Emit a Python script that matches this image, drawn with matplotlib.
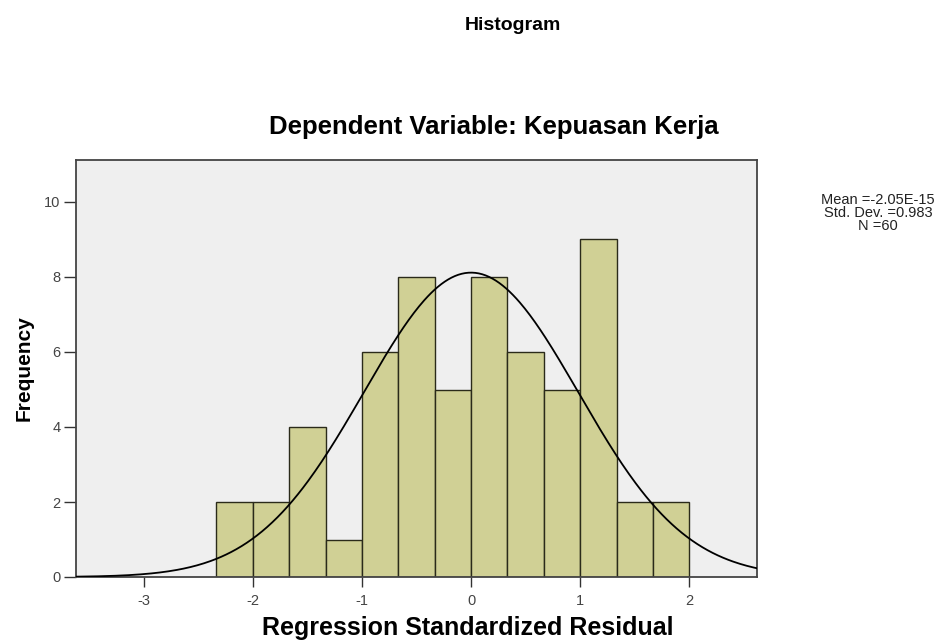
import numpy as np
import matplotlib
matplotlib.use("Agg")
import matplotlib.pyplot as plt

# Data
bin_edges = [-7/3, -2, -5/3, -4/3, -1, -2/3, -1/3, 0, 1/3, 2/3, 1, 4/3, 5/3, 2]
counts = [2, 2, 4, 1, 6, 8, 5, 8, 6, 5, 9, 2, 2]
mean_val = -2.05e-15
std_val = 0.983
n_val = 60
x_ticks = [-3, -2, -1, 0, 1, 2]
y_ticks = [0, 2, 4, 6, 8, 10]

plt.rcParams['font.family'] = ['Liberation Sans', 'DejaVu Sans']

fig = plt.figure(figsize=(9.5, 6.44), dpi=100)
fig.patch.set_facecolor('white')
ax = fig.add_axes([76/950, 1 - 577/644, (757-76)/950, (577-160)/644])
ax.set_facecolor('#efefef')

edges = np.array(bin_edges)
ax.bar(edges[:-1], counts, width=np.diff(edges), align='edge',
       color='#d0d095', edgecolor='#2a2a1a', linewidth=1.0, zorder=2)

binw = edges[1] - edges[0]
xs = np.linspace(-3.62, 2.62, 400)
ys = n_val * binw / (std_val * np.sqrt(2*np.pi)) * np.exp(-0.5*((xs-mean_val)/std_val)**2)
ax.plot(xs, ys, color='black', linewidth=1.3, zorder=3)

ax.set_xlim(-3.62, 2.62)
ax.set_ylim(0, 11.12)
ax.set_xticks(x_ticks)
ax.set_yticks(y_ticks)
ax.set_xticklabels([str(t) for t in x_ticks], fontsize=10.5, color='#444444')
ax.set_yticklabels([str(t) for t in y_ticks], fontsize=10.5, color='#444444')
ax.tick_params(axis='x', direction='out', length=7, width=1, color='#333333', pad=5)
ax.tick_params(axis='y', direction='out', length=9, width=1, color='#333333', pad=2)
for s in ax.spines.values():
    s.set_color('#444444')
    s.set_linewidth(1.3)

ax.set_ylabel('Frequency', fontsize=15, fontweight='bold', labelpad=8)
fig.text(468/950, 1 - 628/644, 'Regression Standardized Residual', ha='center', va='center',
         fontsize=18, fontweight='bold')

fig.text(513/950, 1 - 25/644, 'Histogram', ha='center', va='center', fontsize=14, fontweight='bold')
fig.text(494/950, 1 - 127/644, 'Dependent Variable: Kepuasan Kerja', ha='center', va='center',
         fontsize=18.5, fontweight='bold')
fig.text(878/950, 1 - 193/644,
         'Mean =-2.05E-15\nStd. Dev. =0.983\nN =60',
         ha='center', va='top', fontsize=10.5, linespacing=0.92, color='#222222')

fig.savefig('out.png', dpi=100)
